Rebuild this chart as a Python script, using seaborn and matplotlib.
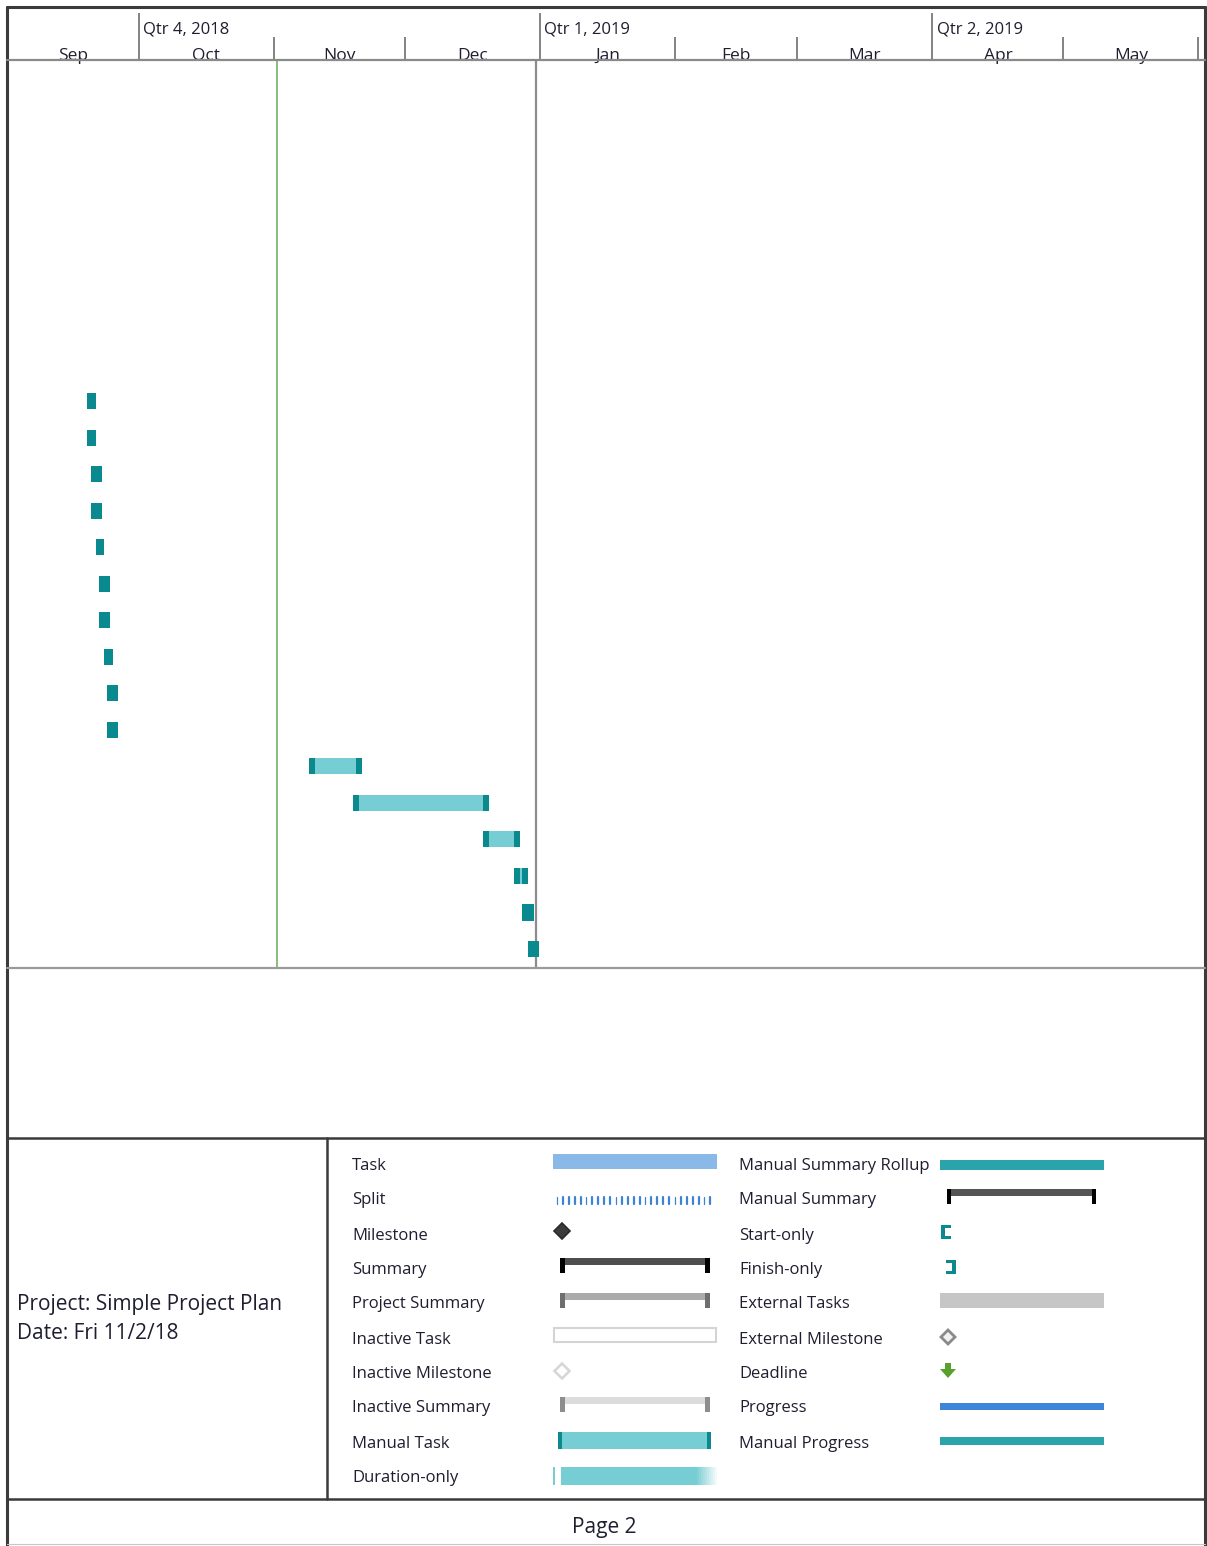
import numpy as np
import pandas as pd
import matplotlib
matplotlib.use("Agg")
import matplotlib.pyplot as plt
import matplotlib.dates as mdates
from matplotlib.patches import Rectangle, Polygon
import seaborn as sns

sns.set_theme(style="white")
plt.rcParams['font.family'] = ['Open Sans', 'DejaVu Sans']

# ---------------- schedule data ----------------
task_rows = list(range(9, 25))
task_starts = [
    "2018-09-19 02:00", "2018-09-19 02:00", "2018-09-20 00:00", "2018-09-20 00:00",
    "2018-09-21 04:00", "2018-09-21 20:00", "2018-09-21 20:00", "2018-09-23 00:00",
    "2018-09-23 17:00", "2018-09-23 17:00", "2018-11-09 00:00", "2018-11-19 02:00",
    "2018-12-18 22:00", "2018-12-26 00:00", "2018-12-27 19:00", "2018-12-29 05:00",
]
task_durations = [2.1, 2.1, 2.5, 2.5, 1.85, 2.5, 2.5, 2.1, 2.5, 2.5,
                  12.1, 31.2, 8.5, 3.2, 2.8, 2.5]

month_starts = ["2018-09-01", "2018-10-01", "2018-11-01", "2018-12-01", "2019-01-01",
                "2019-02-01", "2019-03-01", "2019-04-01", "2019-05-01", "2019-06-01"]
month_labels = ["Sep", "Oct", "Nov", "Dec", "Jan", "Feb", "Mar", "Apr", "May"]
quarter_starts = ["2018-10-01", "2019-01-01", "2019-04-01"]
quarter_labels = ["Qtr 4, 2018", "Qtr 1, 2019", "Qtr 2, 2019"]

current_date_line = "2018-11-01 16:00"
finish_line = "2018-12-31"
view_start, view_end = "2018-08-31 18:00", "2019-06-02 12:00"

project_name = "Project: Simple Project Plan"
project_date = "Date: Fri 11/2/18"
page_label = "Page 2"

legend_left = ["Task", "Split", "Milestone", "Summary", "Project Summary", "Inactive Task",
               "Inactive Milestone", "Inactive Summary", "Manual Task", "Duration-only"]
legend_right = ["Manual Summary Rollup", "Manual Summary", "Start-only", "Finish-only",
                "External Tasks", "External Milestone", "Deadline", "Progress", "Manual Progress"]

# ---------------- colours ----------------
TEAL_LIGHT = "#76CDD3"
TEAL_DARK = "#0A898E"
TEAL_MID = "#2AA3AA"
TXT = "#1E1E30"

W, H = 1207, 1546
fig = plt.figure(figsize=(W / 100, H / 100), dpi=100)
fig.patch.set_facecolor("white")


def fax(x0, y0, x1, y1):
    return fig.add_axes([x0 / W, 1 - y1 / H, (x1 - x0) / W, (y1 - y0) / H])


to_num = lambda s: mdates.date2num(pd.to_datetime(s))
xmin, xmax = to_num(view_start), to_num(view_end)

# ---------------- gantt area ----------------
ax = fax(7, 60, 1205, 968)
starts = to_num(task_starts)
durs = np.array(task_durations)
ends = starts + durs
cap = 1.3
bar_h = 0.44

df = pd.DataFrame({"row": task_rows, "dur": durs, "start": starts})
sns.barplot(data=df, x="dur", y="row", orient="y", native_scale=True, left=df["start"].values,
            width=bar_h, color=TEAL_LIGHT, saturation=1, errorbar=None,
            linewidth=0, edgecolor="none", ax=ax)
# start/finish caps of the manual tasks; very short tasks are all cap
cap_w = np.where(durs < 3, durs / 2 + 0.05, cap)
sns.barplot(x=cap_w, y=task_rows, orient="y", native_scale=True, left=starts,
            width=bar_h, color=TEAL_DARK, saturation=1, errorbar=None,
            linewidth=0, edgecolor="none", ax=ax)
sns.barplot(x=cap_w, y=task_rows, orient="y", native_scale=True, left=ends - cap_w,
            width=bar_h, color=TEAL_DARK, saturation=1, errorbar=None,
            linewidth=0, edgecolor="none", ax=ax)

ax.axvline(to_num(current_date_line), color="#6BAA5A", lw=1.1, zorder=0)
ax.axvline(to_num(finish_line), color="#8C8C8C", lw=1.6, zorder=0)
ax.set_xlim(xmin, xmax)
ax.set_ylim(24.52, -0.335)
ax.set_axis_off()

# ---------------- timescale header ----------------
hx = fax(7, 7, 1205, 60)
hx.set_xlim(xmin, xmax)
hx.set_ylim(60, 7)
hx.set_axis_off()
ms = to_num(month_starts)
qs = to_num(quarter_starts)
for m in ms[2:]:
    if m not in qs:
        hx.plot([m, m], [37, 60], color="#7A7A7A", lw=1.3, solid_capstyle="butt")
for q in qs:
    hx.plot([q, q], [13, 60], color="#7A7A7A", lw=1.3, solid_capstyle="butt")
for lab, a, b in zip(month_labels, ms[:-1], ms[1:]):
    hx.text((a + b) / 2, 59.5, lab, ha="center", va="baseline", fontsize=12.5, color=TXT)
for lab, q in zip(quarter_labels, qs):
    hx.text(q + 1.0, 34, lab, ha="left", va="baseline", fontsize=12, color=TXT)

# ---------------- page frame, legend ----------------
ov = fax(0, 0, W, H)
ov.set_xlim(0, W)
ov.set_ylim(H, 0)
ov.set_axis_off()
ov.patch.set_alpha(0)

DARK = "#3A3A3A"
ov.plot([7, 1205], [7, 7], color=DARK, lw=2.2)
ov.plot([7, 7], [7, H], color=DARK, lw=2.2)
ov.plot([1205, 1205], [7, H], color=DARK, lw=2.2)
ov.plot([7, 1205], [60, 60], color="#8A8A8A", lw=1.6)
ov.plot([7, 1205], [968, 968], color="#9A9A9A", lw=1.6)
ov.plot([7, 1205], [1138, 1138], color=DARK, lw=1.8)
ov.plot([7, 1205], [1499, 1499], color=DARK, lw=1.8)
ov.plot([327, 327], [1138, 1499], color=DARK, lw=1.8)
ov.plot([7, 1205], [1544, 1544], color="#C8C8C8", lw=0.8)

ov.text(17, 1310, project_name, fontsize=15, color=TXT, va="baseline", ha="left")
ov.text(17, 1339, project_date, fontsize=15, color=TXT, va="baseline", ha="left")
ov.text(604, 1533, page_label, fontsize=15, color=TXT, va="baseline", ha="center")

ly = [1163, 1198, 1233, 1267, 1302, 1337, 1371, 1406, 1441, 1476]
for lab, y in zip(legend_left, ly):
    ov.text(352, y + 6.5, lab, fontsize=12, color=TXT, va="baseline", ha="left")
for lab, y in zip(legend_right, ly):
    ov.text(739, y + 6.5, lab, fontsize=12, color=TXT, va="baseline", ha="left")


def rect(x0, y0, x1, y1, fc, ec="none", lw=0):
    ov.add_patch(Rectangle((x0, y0), x1 - x0, y1 - y0, facecolor=fc, edgecolor=ec, lw=lw))


def diamond(cx, cy, r, fc, ec, lw=1.2):
    ov.add_patch(Polygon([(cx, cy - r), (cx + r, cy), (cx, cy + r), (cx - r, cy)],
                         closed=True, facecolor=fc, edgecolor=ec, lw=lw))


def summary_bar(x0, x1, yt, bar_c, cap_c, bh=7, ch=15, cw=5):
    rect(x0, yt, x1, yt + bh, bar_c)
    rect(x0, yt, x0 + cw, yt + ch, cap_c)
    rect(x1 - cw, yt, x1, yt + ch, cap_c)


# left column samples
rect(553, 1154, 717, 1169, "#8AB9E9")
for k, x in enumerate(np.arange(557, 716, 5.9)):
    ov.plot([x, x], [1197, 1204], color="#3F82D2", lw=1.6 if k % 5 else 0.9)
diamond(562, 1231, 8, "#3C3C3C", "#2A2A2A")
summary_bar(560, 710, 1258, "#4E4E4E", "#000000")
summary_bar(560, 710, 1293, "#ABABAB", "#6E6E6E")
rect(554, 1328, 716, 1342, "white", "#D4D4D4", 1.5)
diamond(562, 1371, 7.5, "white", "#D6D6D6", 1.8)
summary_bar(560, 710, 1397, "#DCDCDC", "#8E8E8E")
rect(558, 1432, 711, 1449, TEAL_LIGHT)
rect(558, 1432, 562, 1449, TEAL_DARK)
rect(707, 1432, 711, 1449, TEAL_DARK)
rect(553, 1467, 555, 1485, TEAL_LIGHT)
rect(561, 1467, 695, 1485, TEAL_LIGHT)
for i, x in enumerate(np.arange(695, 717, 2)):
    ov.add_patch(Rectangle((x, 1467), 2, 18, facecolor=TEAL_LIGHT, edgecolor="none",
                           alpha=max(0.0, 1 - i / 11)))

# right column samples
rect(940, 1160, 1104, 1170, TEAL_MID)
summary_bar(947, 1096, 1189, "#555555", "#000000", bh=7, ch=15, cw=4)
ov.add_patch(Polygon([(941, 1225), (951, 1225), (951, 1228), (945, 1228), (945, 1236),
                      (951, 1236), (951, 1239), (941, 1239)], closed=True,
                     facecolor=TEAL_DARK, edgecolor="none"))
ov.add_patch(Polygon([(956, 1260), (946, 1260), (946, 1263), (952, 1263), (952, 1271),
                      (946, 1271), (946, 1274), (956, 1274)], closed=True,
                     facecolor=TEAL_DARK, edgecolor="none"))
rect(940, 1293, 1104, 1308, "#C6C6C6")
diamond(948, 1337, 7, "#F2F2F2", "#8A8A8A", 2.0)
ov.add_patch(Polygon([(945, 1363), (951, 1363), (951, 1369), (956, 1369), (948, 1378),
                      (940, 1369), (945, 1369)], closed=True, facecolor="#5AA02C",
                     edgecolor="none"))
rect(940, 1403, 1104, 1410, "#3D85D8")
rect(940, 1437, 1104, 1445, TEAL_MID)

fig.savefig("out.png", dpi=100, facecolor="white")
